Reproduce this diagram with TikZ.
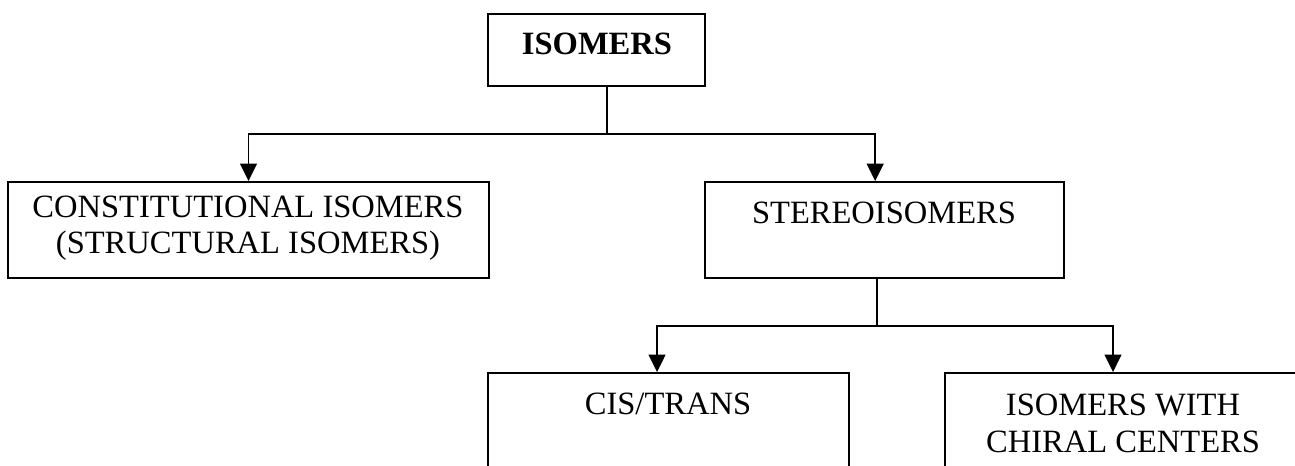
\documentclass[tikz,border=0pt]{standalone}
\usepackage{fontspec}
\setmainfont{Liberation Serif}
\usetikzlibrary{arrows.meta,fit}
\begin{document}
\begin{tikzpicture}[x=0.75pt,y=-0.75pt,
  box/.style={draw, line width=1.4pt, inner sep=0pt, rectangle},
  lbl/.style={font=\fontsize{24.4pt}{27.5pt}\selectfont, inner sep=0pt, align=center, anchor=base},
  conn/.style={line width=1.4pt},
  arrow/.style={conn, -{Triangle[length=13pt, width=12.5pt]}}]
\useasboundingbox (0,0) rectangle (1295,466);
\clip (0,0) rectangle (1295,466);
% boxes
\node[box, fit={(488,14) (705,86)}] (iso) {};
\node[box, fit={(8,182) (489,278)}] (const) {};
\node[box, fit={(705,182) (1064,278)}] (stereo) {};
\node[box, fit={(488,373) (849,500)}] (cis) {};
\node[box, fit={(945,373) (1301,500)}] (chiral) {};
% texts
\node[lbl, font=\fontsize{24.4pt}{27.5pt}\selectfont\bfseries] (isot) at (597,55) {ISOMERS};
\node[lbl] (constt) at (248,254) {CONSTITUTIONAL ISOMERS\\(STRUCTURAL ISOMERS)};
\node[lbl] (stereot) at (884,224) {STEREOISOMERS};
\node[lbl] (cist) at (668,414) {CIS/TRANS};
\node[lbl] (chiralt) at (1123,452) {ISOMERS WITH\\CHIRAL CENTERS};
% connectors
\coordinate (j1) at (607,134);
\coordinate (j2) at (877,326);
\draw[conn] (iso.south -| j1) -- (j1);
\draw[arrow] (j1) -| (const.north);
\draw[arrow] (j1) -| ([xshift=-7pt]stereo.north);
\draw[conn] (stereo.south -| j2) -- (j2);
\draw[arrow] (j2) -| ([xshift=-8.6pt]cis.north);
\draw[arrow] (j2) -| ([xshift=-7.5pt]chiral.north);
\end{tikzpicture}
\end{document}
